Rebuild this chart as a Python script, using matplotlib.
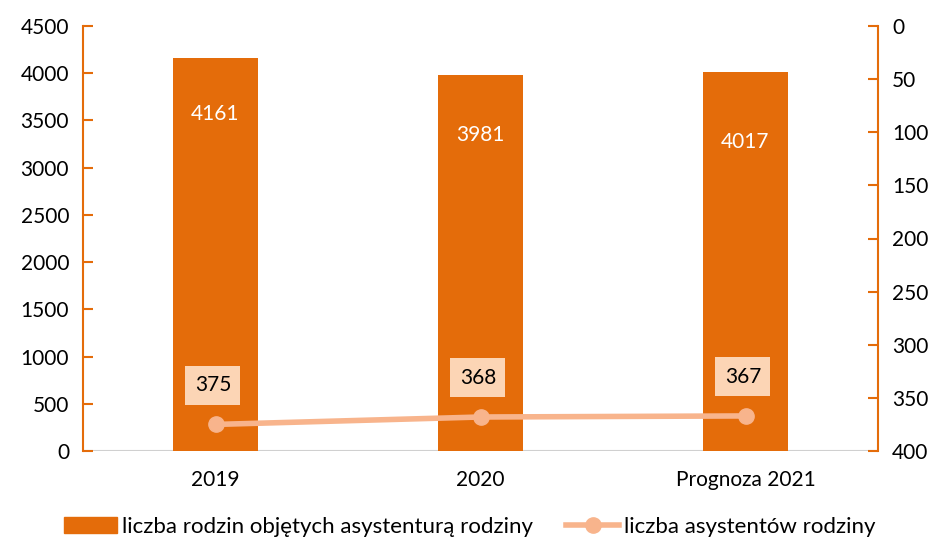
import numpy as np
import matplotlib.pyplot as plt
from matplotlib.lines import Line2D
from matplotlib.patches import Patch

plt.rcParams['font.family'] = ['Lato', 'DejaVu Sans']

kategorie = ['2019', '2020', 'Prognoza 2021']
rodziny = [4161, 3981, 4017]
asystenci = [375, 368, 367]

c_bar = '#E46C0A'
c_line = '#F8B48C'
c_box = '#FCD5B5'

fig = plt.figure(figsize=(9.39, 5.45), dpi=100)
ax = fig.add_axes([83/939, 1-451/545, 795/939, 425/545])
ax2 = ax.twinx()

x = np.arange(len(kategorie))
ax.bar(x, rodziny, width=0.32, color=c_bar, zorder=2)
# etykiety wartości wewnątrz słupków (przesunięcie w dół od wierzchołka)
przesuniecie = [590, 630, 740]
for xi, v, d in zip(x, rodziny, przesuniecie):
    ax.text(xi, v - d, str(v), ha='center', va='center', color='white', fontsize=15)

ax.set_xlim(-0.5, 2.5)
ax.set_ylim(0, 4500)
ax.set_yticks(np.arange(0, 4501, 500))
ax.set_xticks(x)
ax.set_xticklabels(kategorie)
ax.tick_params(axis='x', length=0, pad=14, labelsize=15)
ax.tick_params(axis='y', direction='in', length=7, color=c_bar, width=1.5, labelsize=15, pad=10)

ax2.plot(x, asystenci, color=c_line, lw=4, marker='o', ms=11, zorder=3)
ax2.set_ylim(400, 0)
ax2.set_yticks(np.arange(0, 401, 50))
ax2.tick_params(axis='y', direction='in', length=7, color=c_bar, width=1.5, labelsize=15, pad=10)
for xi, v in zip(x, asystenci):
    ax2.text(xi - 0.01, v - 37, str(v), ha='center', va='center', fontsize=15, color='black',
             bbox=dict(boxstyle='square,pad=0.45', fc=c_box, ec='none'))

for a in (ax, ax2):
    a.spines['top'].set_visible(False)
    a.spines['bottom'].set_visible(False)
    a.spines['left'].set_color(c_bar)
    a.spines['right'].set_color(c_bar)
    a.spines['left'].set_linewidth(1.5)
    a.spines['right'].set_linewidth(1.5)
ax2.spines['left'].set_visible(False)
ax.spines['right'].set_visible(False)
ax.axhline(0, color='#D0D0D0', lw=1.5, zorder=1)

handles = [Patch(color=c_bar), Line2D([], [], color=c_line, lw=4, marker='o', ms=11)]
labels = ['liczba rodzin objętych asystenturą rodziny', 'liczba asystentów rodziny']
fig.legend(handles, labels, loc='lower center', bbox_to_anchor=(0.5, -0.022), ncol=2, frameon=False,
           fontsize=16, handlelength=2.4, handletextpad=0.2, columnspacing=1.5)

fig.savefig('out.png', dpi=100)
